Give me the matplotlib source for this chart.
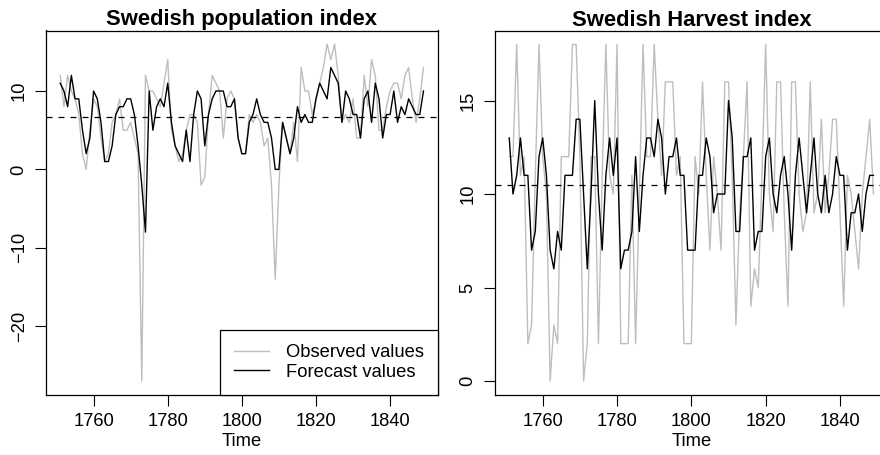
import numpy as np
import matplotlib
matplotlib.use("Agg")
import matplotlib.pyplot as plt

plt.rcParams['font.family'] = ['Liberation Sans', 'DejaVu Sans']

years = np.arange(1751, 1850)

pop_obs = [12, 8, 12, 10, 9, 7, 2, 0, 5, 9,
           8, 4, 1, 2, 6, 7, 9, 5, 5, 6,
           4, 2, -27, 12, 10, 10, 9, 8, 11, 14,
           5, 3, 1, 2, 5, 7, 7, 6, -2, -1,
           7, 12, 11, 10, 4, 9, 10, 9, 4, 2,
           2, 7, 6, 7, 6, 3, 4, -2, -14, -2,
           6, 4, 2, 6, 1, 13, 10, 10, 7, 9,
           11, 13, 16, 14, 16, 12, 6, 7, 6, 9,
           4, 4, 12, 8, 14, 12, 5, 5, 8, 10,
           11, 11, 9, 12, 13, 9, 6, 9, 13]
pop_fc = [11, 10, 8, 12, 9, 9, 5, 2, 4, 10,
          9, 6, 1, 1, 3, 7, 8, 8, 9, 9,
          7, 3, -2, -8, 10, 5, 8, 9, 8, 11,
          6, 3, 2, 1, 5, 1, 7, 10, 9, 3,
          7, 9, 10, 10, 10, 8, 8, 9, 4, 2,
          2, 6, 7, 9, 7, 6, 6, 4, 0, 0,
          6, 4, 2, 4, 8, 6, 7, 6, 6, 9,
          11, 10, 9, 13, 12, 11, 6, 10, 9, 7,
          7, 4, 9, 10, 6, 11, 9, 4, 7, 7,
          10, 6, 8, 7, 9, 8, 7, 7, 10]
pop_mean = 6.7

har_obs = [12, 12, 18, 11, 12, 2, 3, 11, 18, 12,
           10, 0, 3, 2, 12, 12, 12, 18, 18, 12,
           0, 2, 12, 12, 2, 11, 18, 11, 10, 18,
           2, 2, 2, 11, 2, 10, 18, 12, 12, 18,
           14, 11, 16, 16, 16, 11, 12, 2, 2, 2,
           12, 10, 16, 11, 7, 12, 10, 7, 16, 16,
           11, 3, 9, 12, 16, 4, 6, 5, 11, 18,
           10, 8, 16, 16, 9, 4, 16, 16, 10, 8,
           9, 16, 9, 10, 14, 9, 11, 14, 14, 9,
           4, 11, 10, 8, 6, 10, 12, 14, 10]
har_fc = [13, 10, 11, 13, 11, 11, 7, 8, 12, 13,
          11, 7, 6, 8, 7, 11, 11, 11, 14, 14,
          10, 6, 10, 15, 10, 7, 11, 13, 11, 13,
          6, 7, 7, 8, 12, 8, 11, 13, 13, 12,
          14, 13, 10, 12, 12, 13, 11, 11, 7, 7,
          7, 11, 11, 13, 12, 9, 10, 10, 10, 15,
          13, 8, 8, 12, 12, 13, 7, 8, 8, 12,
          13, 10, 9, 11, 12, 10, 7, 11, 13, 11,
          9, 11, 13, 10, 9, 11, 9, 10, 12, 11,
          11, 7, 9, 9, 10, 8, 10, 11, 11]
har_mean = 10.5

xticks = [1760, 1780, 1800, 1820, 1840]

fig = plt.figure(figsize=(8.8, 4.55), dpi=100)
ax1 = fig.add_axes([45.7/880, 60.5/455, (438-45.7)/880, (424.5-60.5)/455])
ax2 = fig.add_axes([494.7/880, 60.5/455, (888-494.7)/880, (424-60.5)/455])

fs = 13.2

def style(ax, yt, title):
    ax.margins(x=0.04, y=0.04)
    ax.set_xticks(xticks)
    ax.set_yticks(yt)
    ax.tick_params(direction='out', length=8, width=0.8, labelsize=fs, pad=5, color='black')
    ax.tick_params(axis='y', labelrotation=90)
    for lab in ax.get_yticklabels():
        lab.set_va('center')
    for sp in ax.spines.values():
        sp.set_linewidth(0.9)
    ax.set_xlabel('Time', fontsize=fs, labelpad=2.5)
    ax.set_title(title, fontsize=15.8, fontweight='bold', pad=2)

ax1.plot(years, pop_obs, color='#bebebe', lw=1.0, label='Observed values')
ax1.plot(years, pop_fc, color='black', lw=1.0, label='Forecast values')
ax1.axhline(pop_mean, color='black', lw=0.9, ls=(0, (4.8, 4.8)))
style(ax1, [-20, -10, 0, 10], 'Swedish population index')
leg = ax1.legend(loc='lower right', fontsize=fs, frameon=True, fancybox=False,
                 edgecolor='black', framealpha=1, borderaxespad=0,
                 handlelength=1.9, handletextpad=0.95, borderpad=0.75,
                 labelspacing=0.15)
leg.get_frame().set_linewidth(0.9)

ax2.plot(years, har_obs, color='#bebebe', lw=1.0)
ax2.plot(years, har_fc, color='black', lw=1.0)
ax2.axhline(har_mean, color='black', lw=0.9, ls=(0, (4.8, 4.8)))
style(ax2, [0, 5, 10, 15], 'Swedish Harvest index')

fig.savefig('out.png', dpi=100)
